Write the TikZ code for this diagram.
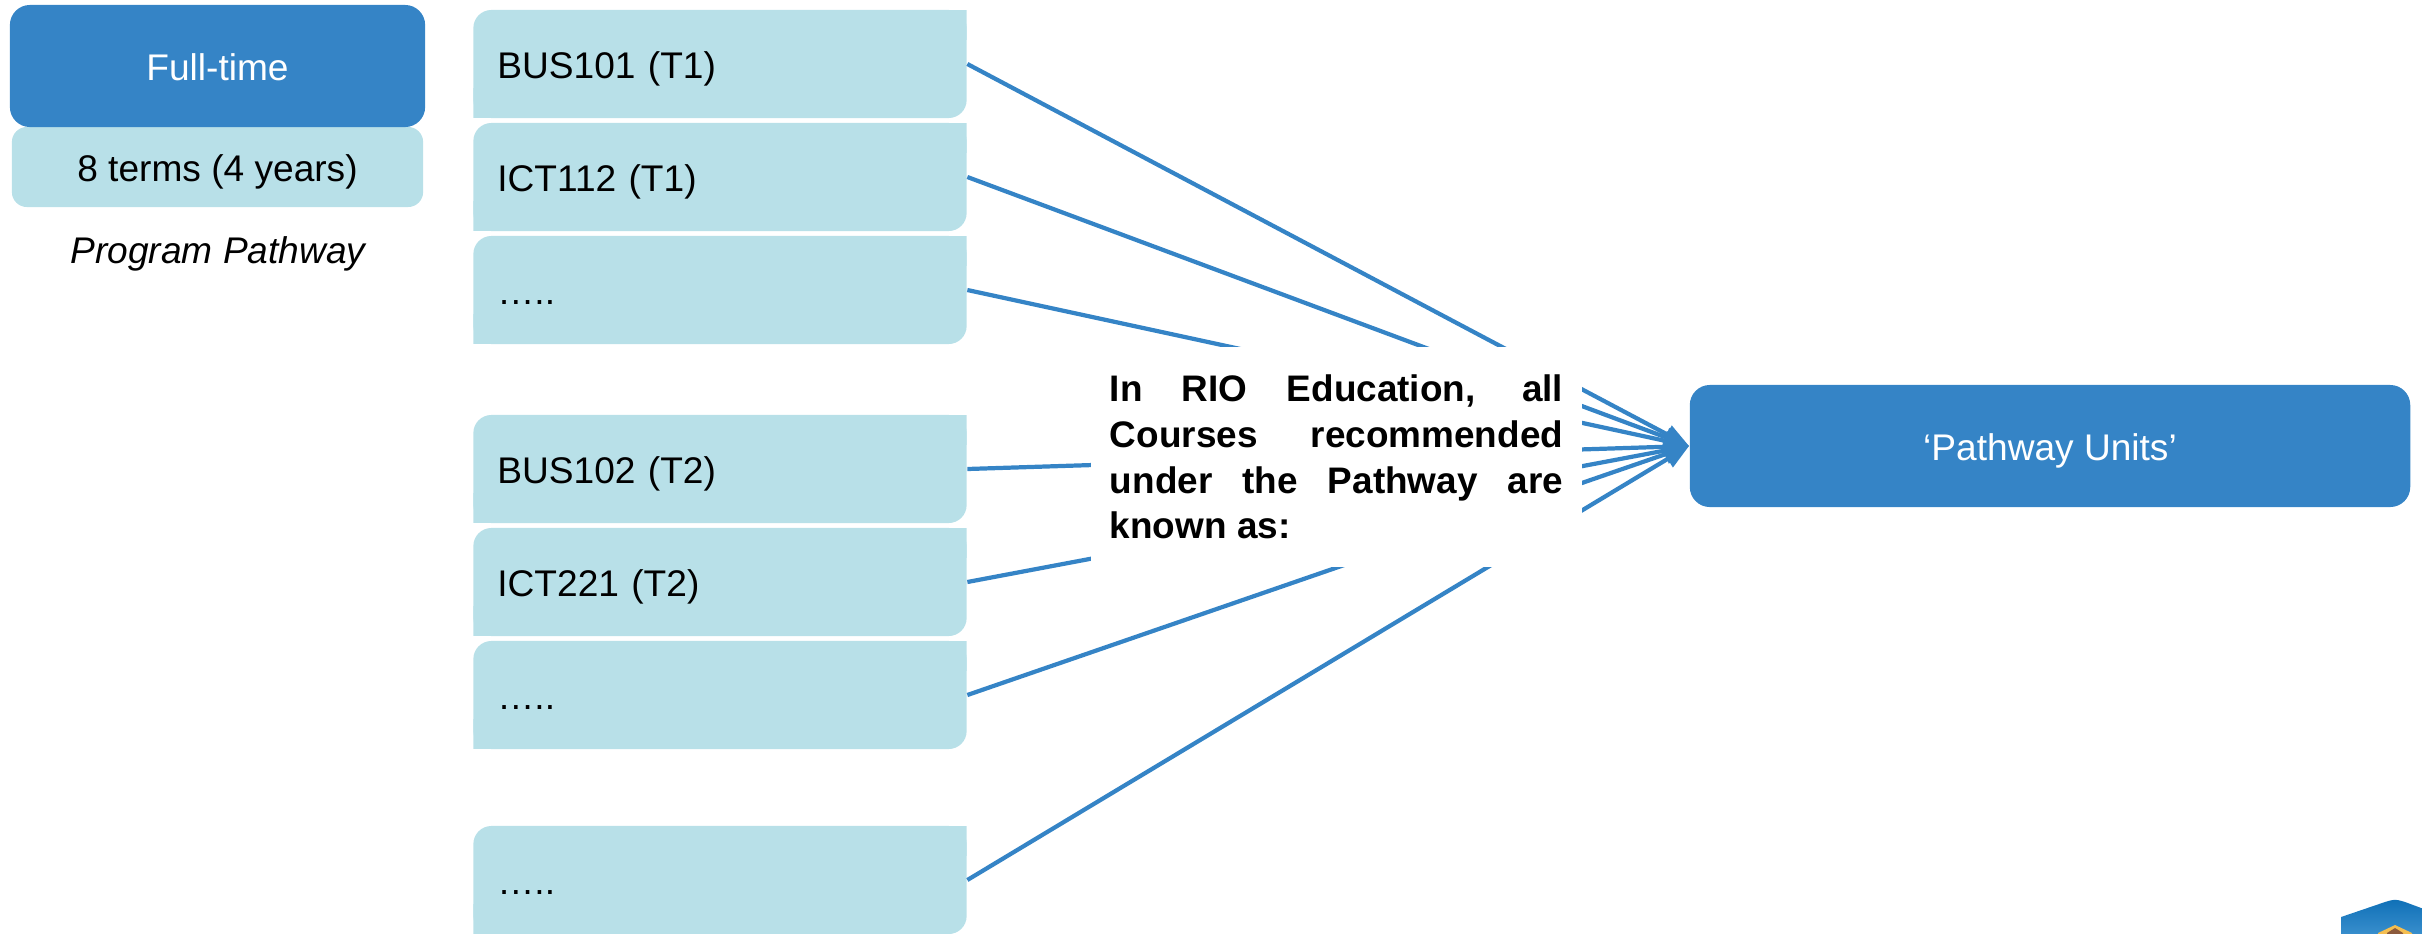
\documentclass[tikz,border=0pt]{standalone}
\usepackage{fontspec}
\setmainfont{Liberation Sans}
\usetikzlibrary{arrows.meta}
\definecolor{deepblue}{HTML}{3584C6}
\definecolor{paleblue}{HTML}{B8E0E8}
\definecolor{logotop}{HTML}{0F70B7}
\definecolor{logolow}{HTML}{3F93D0}
\definecolor{logogold}{HTML}{F5BE50}
\definecolor{logobrown}{HTML}{8C5A3C}
\tikzset{
	base/.style={font=\fontsize{10.55}{13}\selectfont, inner sep=0pt, text height=0.34cm, text depth=0.06cm},
	head/.style={base, fill=deepblue, text=white, rounded corners=0.2cm},
	course/.style={base, minimum width=4.93cm, minimum height=1.08cm, text width=4.45cm, inner xsep=0.24cm, align=left,
		path picture={
			\fill[paleblue, rounded corners=0.18cm] (path picture bounding box.north west) rectangle (path picture bounding box.south east);
			\fill[paleblue] (path picture bounding box.north east) rectangle ++(-0.3cm,-0.3cm);
			\fill[paleblue] (path picture bounding box.south west) rectangle ++(0.3cm,0.3cm);
		}},
	link/.style={draw=deepblue, line width=1.2pt, -{Triangle[length=0.25cm, width=0.19cm]}}
}
\begin{document}
\begin{tikzpicture}[x=0.01cm, y=-0.01cm]
	\useasboundingbox (0,0) rectangle (2422,933);
	\node[base, fill=paleblue, rounded corners=0.15cm, minimum width=4.11cm, minimum height=0.8cm](TERMS) at (217.5,167){8 terms (4 years)};
	\node[head, minimum width=4.15cm, minimum height=1.22cm](FULL) at (217.5,66){Full-time};
	\node[base](PATH) at (218,249){\itshape Program Pathway};
	\node[course](A) at (720,64){BUS101 (T1)};
	\node[course](B) at (720,177){ICT112 (T1)};
	\node[course](C) at (720,290){…..};
	\node[course](D) at (720,469){BUS102 (T2)};
	\node[course](E) at (720,582){ICT221 (T2)};
	\node[course](F) at (720,695){…..};
	\node[course](G) at (720,880){…..};
	\node[head, minimum width=7.2cm, minimum height=1.22cm](UNITS) at (2050,446){‘Pathway Units’};
	\draw [link] (A.east) -- (UNITS.west);
	\draw [link] (B.east) -- (UNITS.west);
	\draw [link] (C.east) -- (UNITS.west);
	\draw [link] (D.east) -- (UNITS.west);
	\draw [link] (E.east) -- (UNITS.west);
	\draw [link] (F.east) -- (UNITS.west);
	\draw [link] (G.east) -- (UNITS.west);
	\node[fill=white, inner sep=0pt, minimum width=4.91cm, minimum height=2.2cm, text width=4.53cm, align=justify, font=\fontsize{10.5}{13}\selectfont\bfseries](NOTE) at (1336.5,457){In RIO Education, all\linebreak Courses recommended\linebreak under the Pathway are\linebreak known as:};
	% logo in the corner
	\shade[top color=logotop, bottom color=logolow] (2341,940) -- (2341,917) -- (2385,902) .. controls (2395,899) .. (2405,902) -- (2440,915) -- (2440,940) -- cycle;
	\fill[logogold] (2378,940) -- (2378,933) -- (2395,925) -- (2412,933) -- (2412,940) -- cycle;
	\fill[logobrown] (2387,940) -- (2387,933) -- (2395,928) -- (2403,933) -- (2403,940) -- cycle;
\end{tikzpicture}
\end{document}
